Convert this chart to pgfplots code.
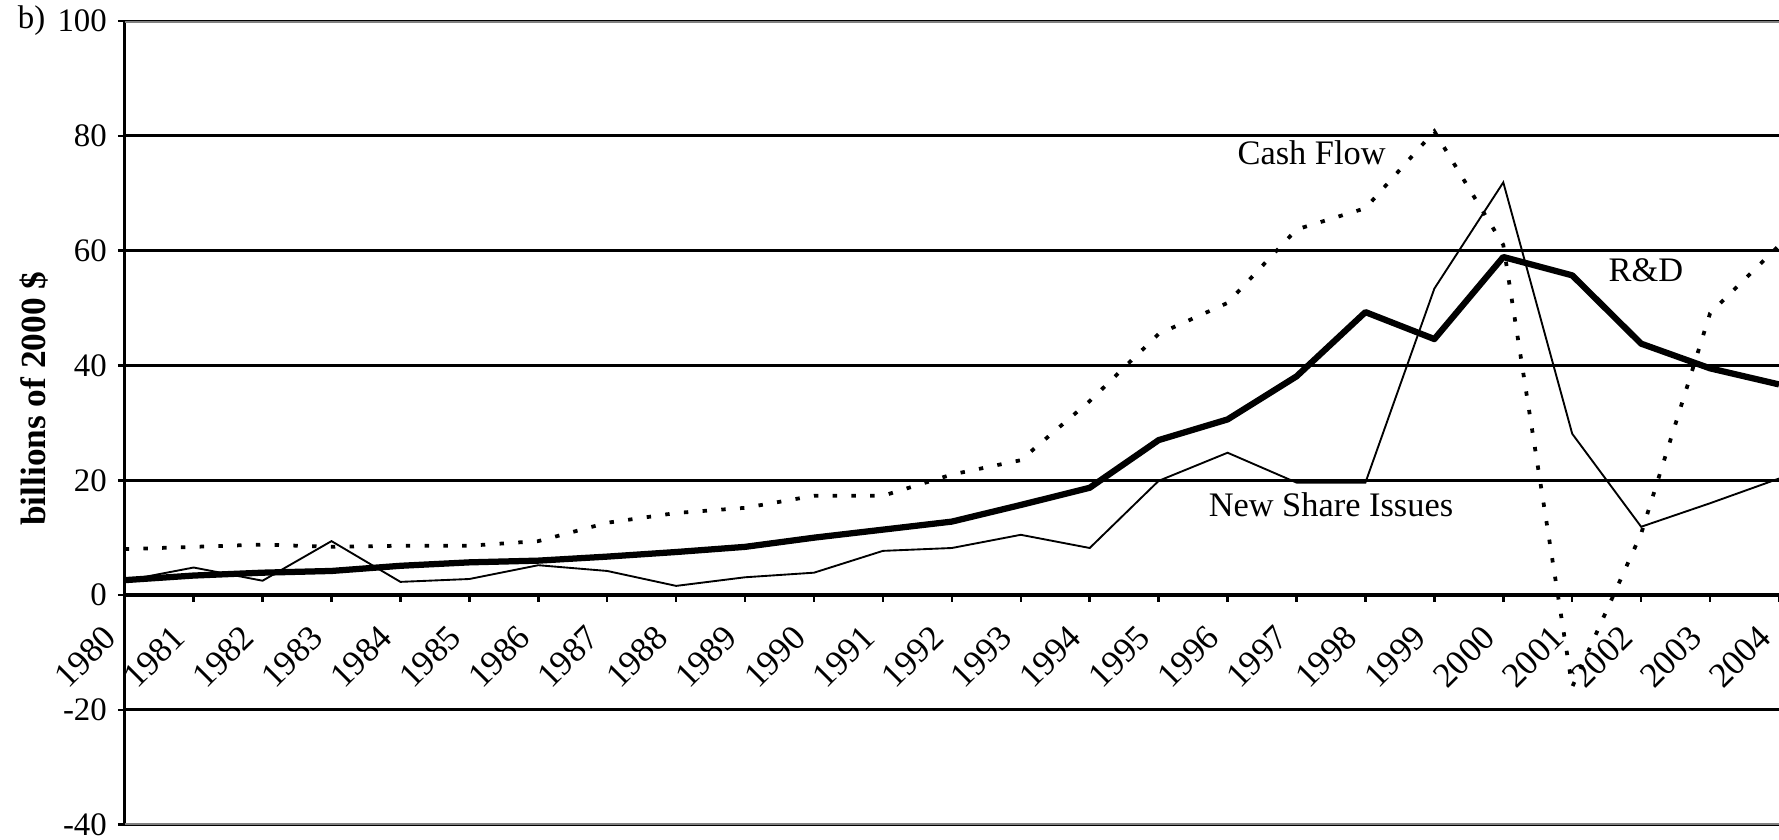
\documentclass[border=0pt]{standalone}
\usepackage{fontspec}
\setmainfont{Liberation Serif}
\usepackage{pgfplots}
\pgfplotsset{compat=1.18}
\pgfplotstableread{
year nsi rd cf
1980 2.5 2.6 8.0
1981 4.8 3.4 8.4
1982 2.5 3.9 8.8
1983 9.4 4.2 8.4
1984 2.3 5.1 8.6
1985 2.8 5.7 8.6
1986 5.2 6.0 9.4
1987 4.2 6.7 12.6
1988 1.6 7.5 14.3
1989 3.1 8.4 15.2
1990 3.9 10.0 17.3
1991 7.7 11.4 17.3
1992 8.2 12.8 21.0
1993 10.5 15.7 23.5
1994 8.2 18.7 33.8
1995 19.9 27.0 45.5
1996 24.8 30.6 50.9
1997 19.6 38.1 63.7
1998 19.6 49.3 67.4
1999 53.4 44.6 80.8
2000 71.9 58.9 61.0
2001 28.1 55.7 -16.0
2002 11.9 43.8 10.7
2003 16.0 39.5 49.1
2004 20.3 36.7 60.9
}\datatable
\begin{document}
\begin{tikzpicture}
\path[use as bounding box] (-39.9pt,-4.6pt) rectangle (529.3pt,263.85pt);
\begin{axis}[
  at={(0,0)}, anchor=south west,
  scale only axis, width=529.3pt, height=257.1pt,
  xmin=1980, xmax=2004, ymin=-40, ymax=100,
  axis x line=middle, axis y line=left,
  axis line style={-, black},
  every inner x axis line/.append style={line width=1.3pt},
  every outer y axis line/.append style={line width=0.9pt},
  hide obscured x ticks=false, hide obscured y ticks=false,
  xtick={1980,1981,...,2004}, ytick={-40,-20,...,100},
  tick align=outside, major tick length=2.2pt,
  tick style={black, line width=0.8pt},
  ymajorgrids, grid style={black, line width=0.9pt},
  /pgf/number format/1000 sep={},
  /pgf/number format/assume math mode=true,
  ticklabel style={font=\fontsize{10.5}{12}\selectfont},
  xticklabel style={xshift=-4.5pt, yshift=-9.5pt, rotate=45, anchor=east, inner sep=0pt, font=\fontsize{11.2}{13}\selectfont},
  ylabel={billions of 2000 \$},
  ylabel style={at={(rel axis cs:-0.055,0.53)}, anchor=center, font=\bfseries\fontsize{11.3}{13}\selectfont},
  clip=true,
]
\draw[gray, line width=1pt] (rel axis cs:0,1) -- (rel axis cs:1,1);
\draw[gray, line width=1pt] (rel axis cs:0,0) -- (rel axis cs:1,0);
\addplot[black, line width=0.6pt] table[x=year, y=nsi] {\datatable};
\addplot[black, line width=2pt, line join=round] table[x=year, y=rd] {\datatable};
\addplot[black, line width=1.2pt, dash pattern=on 1.4pt off 4.6pt] table[x=year, y=cf] {\datatable};
\node[font=\fontsize{11}{13}\selectfont] at (axis cs:1997.22,77.0) {Cash Flow};
\node[font=\fontsize{11}{13}\selectfont] at (axis cs:2002.07,56.6) {R\&D};
\node[font=\fontsize{11}{13}\selectfont] at (axis cs:1997.5,15.7) {New Share Issues};
\end{axis}
\node[font=\fontsize{10.5}{12}\selectfont, anchor=center] at (-29.8pt,257.1pt) {b)};
\end{tikzpicture}
\end{document}
